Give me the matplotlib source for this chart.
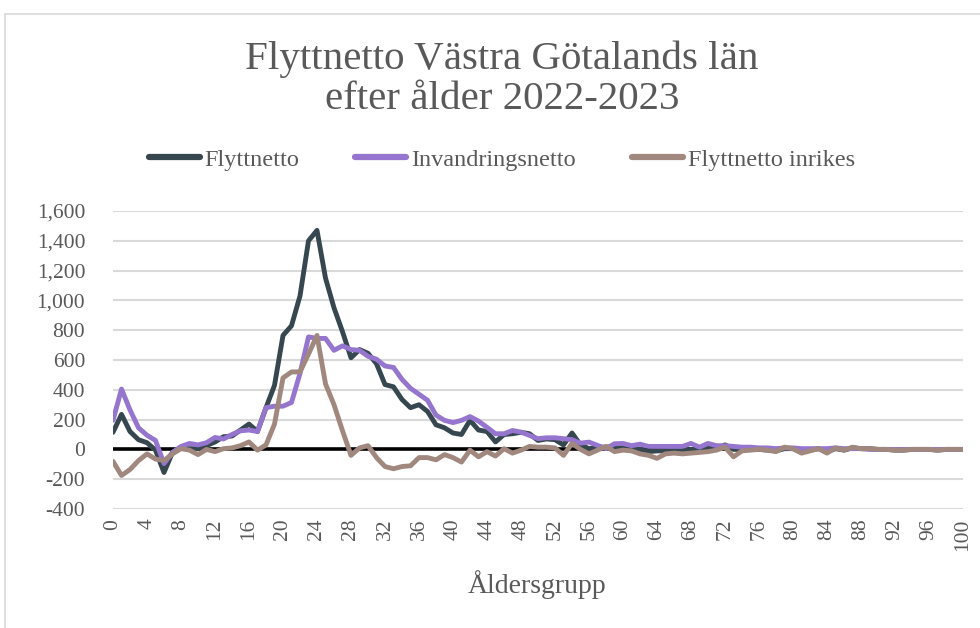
import matplotlib
matplotlib.use("Agg")
import matplotlib.pyplot as plt
from matplotlib.patches import Rectangle

ages = list(range(0, 101))

flyttnetto = [
    115, 235, 120, 65, 45, -5, -155, -20, 10, 5,
    5, 25, 50, 85, 90, 130, 170, 120, 280, 430,
    765, 830, 1030, 1400, 1470, 1150, 950, 790, 615, 670,
    645, 575, 435, 420, 335, 280, 300, 255, 165, 145,
    110, 100, 195, 130, 120, 50, 100, 105, 115, 105,
    60, 70, 65, 30, 110, 30, 5, 15, 15, 20,
    15, 15, 0, -15, -10, -10, 0, -10, 0, 0,
    10, 5, 30, 0, 0, 0, 0, -5, -10, 5,
    5, -20, -5, 5, -15, 5, -5, 10, 5, 5,
    0, 0, -5, -5, 0, 0, 0, -5, 0, 0,
    0]

invandringsnetto = [
    195, 405, 265, 145, 95, 60, -95, -20, 20, 40,
    30, 45, 80, 70, 100, 125, 130, 120, 280, 290,
    290, 315, 510, 755, 745, 745, 665, 695, 670, 665,
    625, 605, 560, 550, 470, 410, 370, 330, 230, 195,
    180, 195, 220, 190, 148, 105, 105, 127, 116, 94,
    72, 78, 78, 72, 65, 42, 49, 27, 5, 38,
    40, 25, 35, 20, 20, 20, 20, 20, 40, 15,
    40, 25, 25, 20, 15, 15, 10, 10, 5, 10,
    10, 5, 5, 5, 5, 10, 5, 5, 5, 0,
    0, 0, 0, 0, 0, 0, 0, 0, 0, 0,
    0]

flyttnetto_inrikes = [
    -80, -175, -135, -75, -30, -65, -75, -30, 5, -5,
    -35, 0, -15, 5, 10, 25, 50, -5, 30, 170,
    480, 520, 520, 640, 765, 440, 300, 125, -40, 10,
    25, -55, -115, -130, -115, -110, -55, -55, -70, -35,
    -55, -85, -5, -50, -15, -45, 5, -25, -5, 20,
    15, 15, 10, -40, 40, 0, -30, -5, 20, -15,
    -5, -10, -30, -40, -60, -30, -25, -30, -25, -20,
    -15, -5, 15, -50, -10, -5, 0, -5, -15, 15,
    5, -25, -10, 5, -25, 10, -5, 15, 5, 5,
    0, 0, -5, -5, 0, 0, 0, -5, 0, 0,
    0]

series_names = ["Flyttnetto", "Invandringsnetto", "Flyttnetto inrikes"]
series_colors = ["#37474F", "#9575CD", "#A1887F"]

y_ticks = [-400, -200, 0, 200, 400, 600, 800, 1000, 1200, 1400, 1600]
x_ticks = list(range(0, 101, 4))

title = "Flyttnetto Västra Götalands län\nefter ålder 2022-2023"
xlabel = "Åldersgrupp"

plt.rcParams["font.family"] = ["Liberation Serif", "DejaVu Serif"]
text_color = "#595959"

W, H = 980, 628
fig = plt.figure(figsize=(W / 100, H / 100), dpi=100)
fig.patch.set_facecolor("white")
ax = fig.add_axes([113 / W, 1 - 509 / H, (963 - 113) / W, (509 - 211) / H])

# chart border
fig.patches.append(Rectangle((5 / W, -0.1), 2.0, 1 - 14 / H + 0.1,
                             transform=fig.transFigure, fill=False,
                             edgecolor="#d9d9d9", linewidth=1.2))

for yv in y_ticks:
    if yv != 0:
        ax.axhline(yv, color="#d9d9d9", linewidth=1.5, zorder=1)
ax.axhline(0, color="black", linewidth=2.6, zorder=2)

for vals, name, col, z in zip([flyttnetto, invandringsnetto, flyttnetto_inrikes],
                              series_names, series_colors, [3, 4, 5]):
    ax.plot(ages, vals, color=col, linewidth=3.5, label=name, zorder=z,
            solid_joinstyle="round", solid_capstyle="round")

ax.set_xlim(0, 100)
ax.set_ylim(-400, 1600)
ax.set_yticks(y_ticks)
ax.set_yticklabels([f"{v:,}" for v in y_ticks])
ax.set_xticks(x_ticks)
ax.set_xticklabels([str(v) for v in x_ticks], rotation=90)
ax.tick_params(axis="both", length=0, colors=text_color, labelsize=15.5)
ax.tick_params(axis="y", pad=20)
ax.tick_params(axis="x", pad=7)
for s in ax.spines.values():
    s.set_visible(False)

fig.text(0.512, 1 - 40 / H, title, ha="center", va="top", fontsize=29.5,
         color=text_color, linespacing=1.12)

leg = ax.legend(loc="center", bbox_to_anchor=(0.512, 1 - 160 / H),
                bbox_transform=fig.transFigure, ncol=3, frameon=False,
                fontsize=17.5, handlelength=2.1, handletextpad=0.2,
                columnspacing=2.3)
for t in leg.get_texts():
    t.set_color(text_color)
for l in leg.get_lines():
    l.set_linewidth(4.5)

fig.text(537 / W, 1 - 585 / H, xlabel, ha="center", va="center",
         fontsize=20, color=text_color)

fig.savefig("out.png", dpi=100, facecolor="white")
